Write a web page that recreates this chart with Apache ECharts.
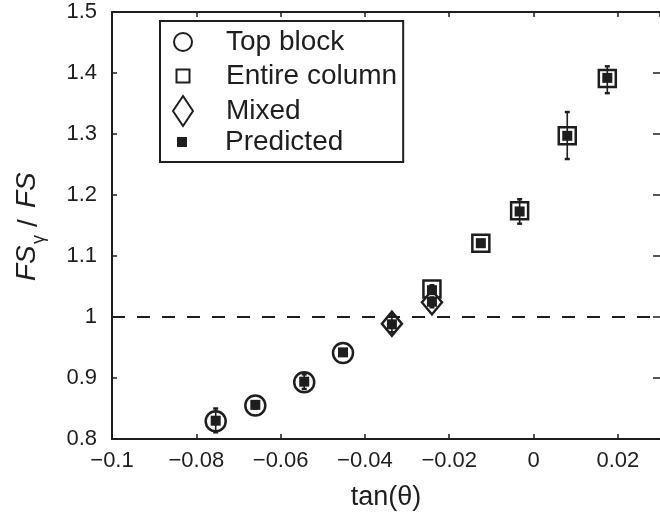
<!DOCTYPE html>
<html>
<head>
<meta charset="utf-8">
<script src="https://cdn.jsdelivr.net/npm/echarts@6/dist/echarts.min.js"></script>
<style>
  html, body { margin: 0; padding: 0; background: #fff; }
  #chart { width: 660px; height: 516px; }
</style>
</head>
<body>
<div id="chart"></div>
<script>
// observed points (tan(theta), FS_gamma / FS) with error bar ends
const topX = [-0.0754, -0.0660, -0.0544, -0.0452];
const topY = [0.829, 0.855, 0.893, 0.941];
const topLo = [0.811, 0.850, 0.882, 0.937];
const topHi = [0.850, 0.861, 0.906, 0.946];

const mixedX = [-0.0336, -0.0241];
const mixedY = [0.989, 1.024];
const mixedLo = [0.975, 1.016];
const mixedHi = [1.004, 1.032];

const colX = [-0.0241, -0.0125, -0.0033, 0.0080, 0.0175];
const colY = [1.046, 1.121, 1.174, 1.297, 1.391];
const colLo = [1.040, 1.116, 1.153, 1.259, 1.367];
const colHi = [1.052, 1.126, 1.193, 1.336, 1.411];

const predX = [-0.0754, -0.0660, -0.0544, -0.0452, -0.0336, -0.0241, -0.0241, -0.0125, -0.0033, 0.0080, 0.0175];
const predY = [0.830, 0.856, 0.894, 0.942, 0.988, 1.025, 1.044, 1.121, 1.173, 1.297, 1.392];

const xTicks = { min: -0.1, max: 0.03, interval: 0.02 };
const yTicks = { min: 0.8, max: 1.5, interval: 0.1 };

const INK = '#1e1e1e';
const FONT = 'Liberation Sans';

const zip = (...cols) => cols[0].map((_, i) => cols.map(c => c[i]));

const fmt = v => {
  const s = String(+(+v).toFixed(2));
  return s.replace('-', '\u2212');
};

const axisBase = {
  axisLine: { show: true, onZero: false, lineStyle: { color: INK, width: 2 } },
  axisTick: { show: true, inside: true, length: 5, lineStyle: { color: INK, width: 1.5 } },
  splitLine: { show: false }
};

const legendText = { fontFamily: FONT, fontSize: 28, color: INK, lineHeight: 28 };

// one legend per row so every icon keeps its own size; icons centred at x=182, text at x=225
const legendRow = (name, top, size, extra) => Object.assign({
  data: [name], left: 160, top: top, orient: 'vertical',
  padding: [0, 0, 0, 22 - size / 2], itemWidth: size, itemHeight: size,
  textStyle: Object.assign({ padding: [0, 0, 0, 38 - size / 2] }, legendText),
  selectedMode: false
}, extra || {});

const chart = echarts.init(document.getElementById('chart'));

const errBars = (params, api) => {
  const x = api.value(0);
  const top = api.coord([x, api.value(2)]);
  const bot = api.coord([x, api.value(1)]);
  const st = { stroke: INK, lineWidth: 1.6 };
  return {
    type: 'group',
    children: [
      { type: 'line', shape: { x1: top[0], y1: top[1], x2: bot[0], y2: bot[1] }, style: st },
      { type: 'line', shape: { x1: top[0] - 2.5, y1: top[1], x2: top[0] + 2.5, y2: top[1] }, style: { stroke: INK, lineWidth: 2.5 } },
      { type: 'line', shape: { x1: bot[0] - 2.5, y1: bot[1], x2: bot[0] + 2.5, y2: bot[1] }, style: { stroke: INK, lineWidth: 2.5 } }
    ]
  };
};

chart.setOption({
  animation: false,
  backgroundColor: '#fff',
  grid: { left: 112, width: 550, top: 12, bottom: 72 },
  legend: [
    legendRow('Top block', 28, 18),
    legendRow('Entire column', 21, 13, {
      padding: [41, 6, 72, 22 - 13 / 2],
      borderColor: INK, borderWidth: 2
    }),
    legendRow('Mixed', 95, 20, {
      itemHeight: 30, symbolKeepAspect: false
    }),
    legendRow('Predicted', 128, 10)
  ],
  xAxis: [
    Object.assign({}, axisBase, {
      type: 'value', position: 'bottom',
      min: xTicks.min, max: xTicks.max, interval: xTicks.interval,
      axisLabel: {
        show: true, margin: 11, showMaxLabel: false,
        fontFamily: FONT, fontSize: 22, color: INK, formatter: fmt
      },
      name: 'tan(\u03b8)', nameLocation: 'middle', nameGap: 45,
      nameTextStyle: { fontFamily: FONT, fontSize: 27, color: INK }
    }),
    Object.assign({}, axisBase, {
      type: 'value', position: 'top',
      min: xTicks.min, max: xTicks.max, interval: xTicks.interval,
      axisLabel: { show: false }
    })
  ],
  yAxis: [
    Object.assign({}, axisBase, {
      type: 'value', position: 'left',
      min: yTicks.min, max: yTicks.max, interval: yTicks.interval,
      axisLabel: { show: true, margin: 15, fontFamily: FONT, fontSize: 22, color: INK, formatter: fmt }
    }),
    Object.assign({}, axisBase, {
      type: 'value', position: 'right',
      min: yTicks.min, max: yTicks.max, interval: yTicks.interval,
      axisLine: { show: false, onZero: false },
      axisTick: { show: true, inside: true, length: 7, lineStyle: { color: INK, width: 1.5 } },
      axisLabel: { show: false }
    })
  ],
  graphic: [
    {
      type: 'group', x: 27, y: 228, rotation: Math.PI / 2,
      children: [
        { type: 'text', x: -53, y: 0, style: { text: 'FS', font: 'italic 28px ' + FONT, fill: INK, textAlign: 'left', textVerticalAlign: 'middle', align: 'left', verticalAlign: 'middle' } },
        { type: 'text', x: -16, y: 12, style: { text: '\u03b3', font: '18px ' + FONT, fill: INK, textAlign: 'left', textVerticalAlign: 'middle', align: 'left', verticalAlign: 'middle' } },
        { type: 'text', x: 1, y: 2, style: { text: '/', font: '28px ' + FONT, fill: INK, textAlign: 'left', textVerticalAlign: 'middle', align: 'left', verticalAlign: 'middle' } },
        { type: 'text', x: 20, y: 0, style: { text: 'FS', font: 'italic 28px ' + FONT, fill: INK, textAlign: 'left', textVerticalAlign: 'middle', align: 'left', verticalAlign: 'middle' } }
      ]
    }
  ],
  series: [
    {
      name: 'unity', type: 'line', data: [], silent: true,
      markLine: {
        silent: true, symbol: 'none', label: { show: false },
        lineStyle: { color: INK, width: 2, type: [13, 12] },
        data: [{ yAxis: 1 }]
      }
    },
    {
      name: 'Top block', type: 'scatter', symbol: 'circle', symbolSize: 20, z: 2,
      itemStyle: { color: '#fff', borderColor: INK, borderWidth: 2.5, opacity: 1 },
      data: zip(topX, topY)
    },
    {
      name: 'Entire column', type: 'scatter', symbol: 'rect', symbolSize: 17, z: 2,
      itemStyle: { color: '#fff', borderColor: INK, borderWidth: 2.5, opacity: 1 },
      data: zip(colX, colY)
    },
    {
      name: 'Mixed', type: 'scatter', symbol: 'diamond', symbolSize: [20, 24], z: 2,
      itemStyle: { color: '#fff', borderColor: INK, borderWidth: 2.5, opacity: 1 },
      data: zip(mixedX, mixedY)
    },
    {
      name: 'errors', type: 'custom', z: 3, silent: true,
      renderItem: errBars,
      data: zip(topX, topLo, topHi).concat(zip(mixedX, mixedLo, mixedHi), zip(colX, colLo, colHi))
    },
    {
      name: 'Predicted', type: 'scatter', symbol: 'rect', symbolSize: 10, z: 4,
      itemStyle: { color: INK, opacity: 1 },
      data: zip(predX, predY)
    }
  ]
});
</script>
</body>
</html>
